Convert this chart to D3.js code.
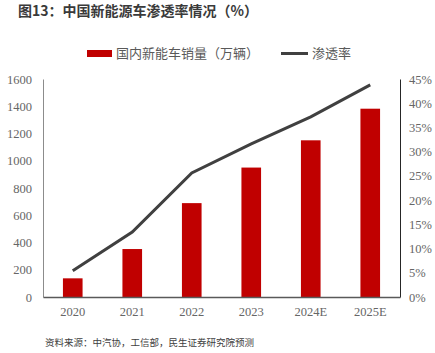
<!DOCTYPE html>
<html>
<head>
<meta charset="utf-8">
<script src="https://cdn.jsdelivr.net/npm/d3@7"></script>
<style>
  body { margin: 0; background: #fff; }
  svg { display: block; }
</style>
</head>
<body>
<svg id="chart"></svg>
<script>
//chart data
const years = ["2020", "2021", "2022", "2023", "2024E", "2025E"];
const sales = [137, 352, 689, 950, 1150, 1382];      //万辆
const penetration = [5.4, 13.4, 25.6, 31.6, 37.2, 43.8]; //%
const leftTicks = [0, 200, 400, 600, 800, 1000, 1200, 1400, 1600];
const rightTicks = [0, 5, 10, 15, 20, 25, 30, 35, 40, 45];

const width = 435, height = 353;
const margin = { top: 79, right: 35, bottom: 56, left: 43 };

const svg = d3.select("#chart")
    .attr("width", width)
    .attr("height", height);

const x = d3.scaleBand()
    .domain(years)
    .range([margin.left, width - margin.right])
    .paddingInner(0.67)
    .paddingOuter(0.335);

const yLeft = d3.scaleLinear()
    .domain([0, 1600])
    .range([height - margin.bottom, margin.top]);

const yRight = d3.scaleLinear()
    .domain([0, 45])
    .range([height - margin.bottom, margin.top]);

const labelFont = "'Liberation Serif', 'DejaVu Serif', serif";
const cjkFont = "'Noto Sans CJK SC', 'Noto Sans', sans-serif";

//title
svg.append("text")
    .attr("x", 18)
    .attr("y", 16)
    .attr("font-family", cjkFont)
    .attr("font-weight", "bold")
    .attr("font-size", 14)
    .attr("fill", "#3a3a3a")
    .text("图13：中国新能源车渗透率情况（%）");

//legend
svg.append("rect")
    .attr("x", 87).attr("y", 50)
    .attr("width", 25).attr("height", 7)
    .attr("fill", "#c00000");
svg.append("text")
    .attr("x", 116).attr("y", 58)
    .attr("font-family", cjkFont)
    .attr("font-size", 13)
    .attr("fill", "#595959")
    .text("国内新能车销量（万辆）");
svg.append("line")
    .attr("x1", 281).attr("x2", 308)
    .attr("y1", 53.5).attr("y2", 53.5)
    .attr("stroke", "#404040")
    .attr("stroke-width", 3);
svg.append("text")
    .attr("x", 312).attr("y", 58)
    .attr("font-family", cjkFont)
    .attr("font-size", 13)
    .attr("fill", "#595959")
    .text("渗透率");

//bars
svg.selectAll(".bar")
    .data(years)
    .join("rect")
    .attr("class", "bar")
    .attr("x", d => x(d))
    .attr("width", x.bandwidth())
    .attr("y", (d, i) => yLeft(sales[i]))
    .attr("height", (d, i) => yLeft(0) - yLeft(sales[i]))
    .attr("fill", "#c00000");

//penetration line
const line = d3.line()
    .x((d, i) => x(years[i]) + x.bandwidth() / 2)
    .y(d => yRight(d));

svg.append("path")
    .datum(penetration)
    .attr("d", line)
    .attr("fill", "none")
    .attr("stroke", "#404040")
    .attr("stroke-width", 3);

//axes
const leftAxis = svg.append("g")
    .attr("transform", `translate(${margin.left},0)`)
    .call(d3.axisLeft(yLeft).tickValues(leftTicks).tickSize(0).tickPadding(11)
        .tickFormat(d => String(d)));

const rightAxis = svg.append("g")
    .attr("transform", `translate(${width - margin.right},0)`)
    .call(d3.axisRight(yRight).tickValues(rightTicks).tickSize(0).tickPadding(9)
        .tickFormat(d => d + "%"));

const bottomAxis = svg.append("g")
    .attr("transform", `translate(0,${height - margin.bottom})`)
    .call(d3.axisBottom(x).tickSize(0).tickPadding(10));

leftAxis.select(".domain").attr("stroke", "#8c8c8c");
rightAxis.select(".domain").attr("stroke", "#262626");
bottomAxis.select(".domain").attr("stroke", "#595959").attr("stroke-width", 1.5);

svg.selectAll(".tick text")
    .attr("font-family", labelFont)
    .attr("font-size", 12.5)
    .attr("fill", "#666666");

//source note
svg.append("text")
    .attr("x", 45)
    .attr("y", 346)
    .attr("font-family", cjkFont)
    .attr("font-size", 9.5)
    .attr("fill", "#404040")
    .text("资料来源：中汽协，工信部，民生证券研究院预测");
</script>
</body>
</html>
